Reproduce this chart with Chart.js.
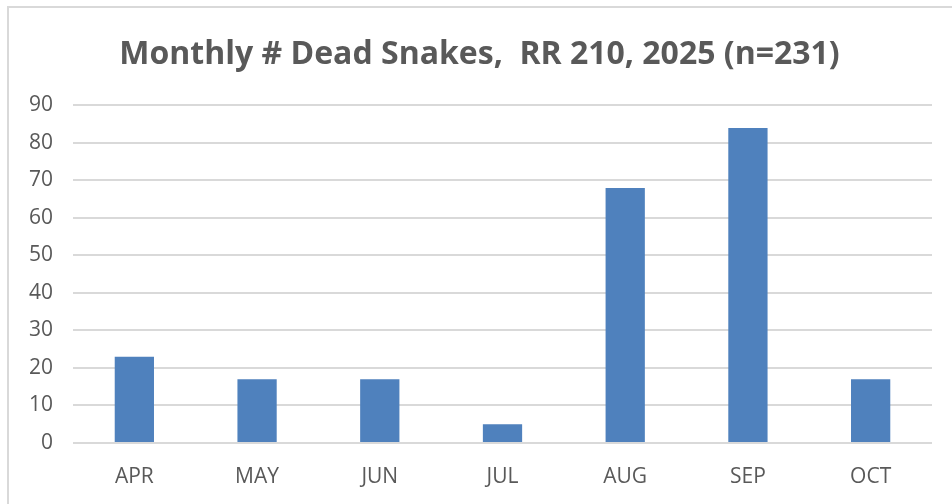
<!DOCTYPE html>
<html>
<head>
<meta charset="utf-8">
<script src="https://cdn.jsdelivr.net/npm/chart.js@4/dist/chart.umd.min.js"></script>
<style>
body{margin:0;background:#fff;overflow:hidden}
#wrap{position:relative;width:952px;height:504px;overflow:hidden}
#frame{position:absolute;left:7px;top:6px;width:960px;height:520px;border-left:2px solid #d9d9d9;border-top:2px solid #d9d9d9;pointer-events:none}
</style>
</head>
<body>
<div id="wrap">
<canvas id="myChart" width="952" height="504"></canvas>
<div id="frame"></div>
</div>
<script>
// monthly counts of dead snakes
var months = ["APR","MAY","JUN","JUL","AUG","SEP","OCT"]
var deadSnakes = [23,17,17,5,68,84,17]
var barColor = "#4f81bd"
var textColor = "#595959"

new Chart("myChart",{
    type: "bar",
    data: {
        labels: months,
        datasets: [{
            data: deadSnakes,
            backgroundColor: barColor,
            categoryPercentage: 1,
            barPercentage: 0.32
        }]
    },
    options: {
        responsive: false,
        animation: false,
        layout: {padding: {left: 27, right: 20, top: 30, bottom: 0}},
        plugins: {
            legend: {display: false},
            tooltip: {enabled: false},
            title: {
                display: true,
                text: "Monthly # Dead Snakes,  RR 210, 2025 (n=231)",
                color: textColor,
                font: {family: "'Open Sans'", size: 32, weight: "bold"},
                padding: {top: 6, bottom: 31}
            }
        },
        scales: {
            y: {
                min: 0,
                max: 90,
                afterFit: function(s){ s.width = 46 },
                ticks: {stepSize: 10, color: textColor, padding: 20, font: {family: "'Open Sans'", size: 21}},
                grid: {color: "#d9d9d9", lineWidth: 2, drawTicks: false},
                border: {display: false}
            },
            x: {
                afterFit: function(s){ s.height = 61 },
                ticks: {color: textColor, padding: 21, font: {family: "'Open Sans'", size: 21}},
                grid: {display: false, drawTicks: false},
                border: {display: false}
            }
        }
    }
});
</script>
</body>
</html>
